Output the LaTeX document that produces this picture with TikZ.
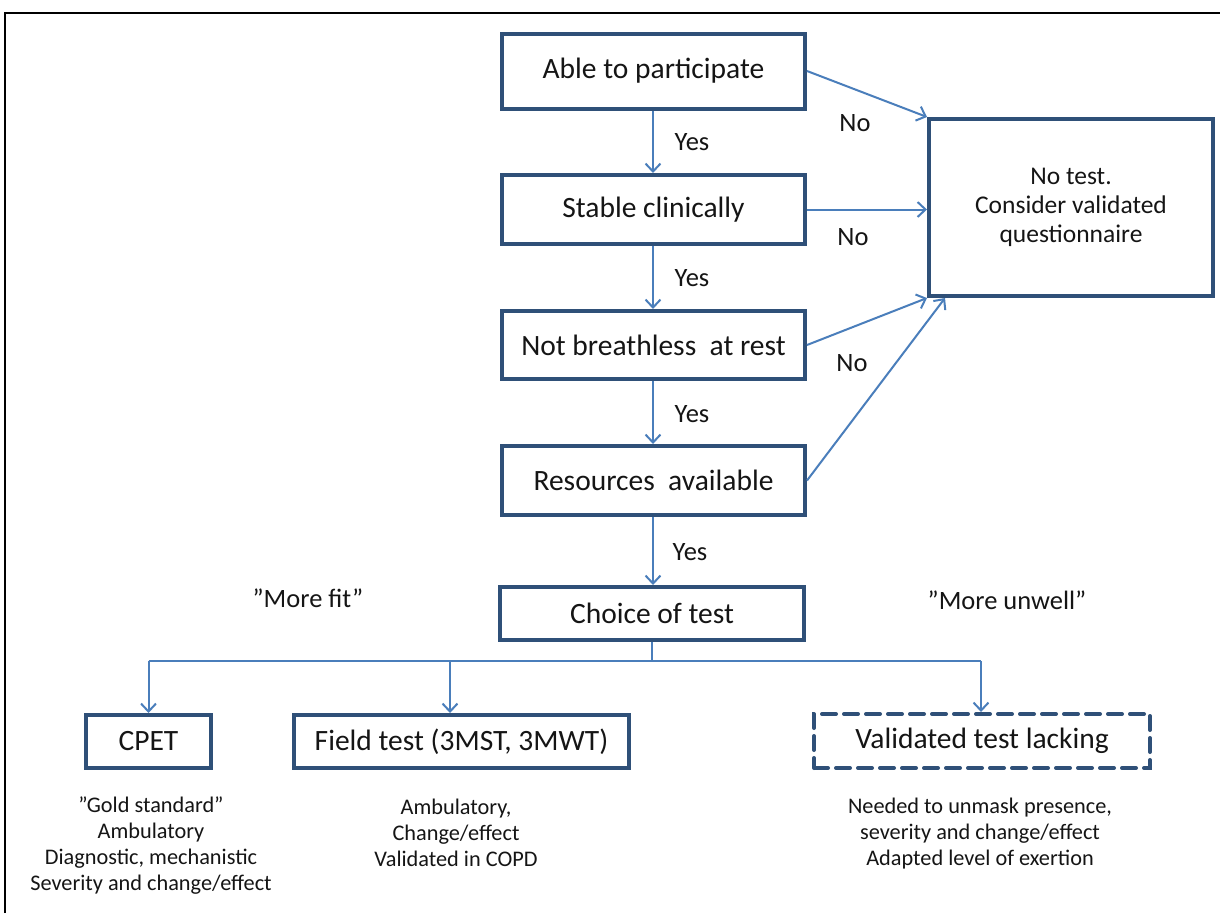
\documentclass[tikz,border=0pt]{standalone}
\usepackage{fontspec}
\setmainfont{Carlito}
\usetikzlibrary{arrows.meta}
\definecolor{boxblue}{HTML}{2F5078}
\definecolor{arrblue}{HTML}{4A7EBB}
\definecolor{txt}{HTML}{151515}
\begin{document}
\begin{tikzpicture}[x=1pt,y=-1pt,
  box/.style={draw=boxblue,line width=4pt,fill=white,inner sep=0pt,text=txt,
    font=\fontsize{29.5}{32}\selectfont,align=center},
  dbox/.style={box,dash pattern=on 14pt off 8pt,line cap=round},
  conn/.style={draw=arrblue,line width=2pt},
  arr/.style={conn,-{Straight Barb[length=8pt,width=15pt,line width=2pt]}},
  lab/.style={text=txt,inner sep=0pt,font=\fontsize{26.5}{28}\selectfont},
  note/.style={text=txt,inner sep=0pt,align=center,font=\fontsize{22.3}{26}\selectfont}]
\useasboundingbox (0,0) rectangle (1220,913);
\fill[white] (0,0) rectangle (1220,913);
% frame
\draw[line width=2.5pt,black] (5,913) -- (5,13) -- (1220,13);

% main boxes
\node[box,minimum width=303pt,minimum height=75pt] (able) at (653.5,71) {Able to participate};
\node[box,minimum width=303pt,minimum height=69pt] (stable) at (653.5,209.5) {Stable clinically};
\node[box,minimum width=303pt,minimum height=68pt] (breath) at (653.5,345) {Not breathless~ at rest};
\node[box,minimum width=303pt,minimum height=69pt] (res) at (653.5,480.5) {Resources~ available};
\node[box,minimum width=304pt,minimum height=53pt] (choice) at (652,613.5) {Choice of test};
\node[box,minimum width=284pt,minimum height=177pt,font=\fontsize{25.5}{29}\selectfont] (notest) at (1071,207.5)
  {No test.\\Consider validated\\questionnaire};

% bottom boxes
\node[box,minimum width=125pt,minimum height=53pt] (cpet) at (148.5,741.5) {CPET};
\node[box,minimum width=335pt,minimum height=53pt] (field) at (461.5,741.5) {Field test (3MST, 3MWT)};
\node[dbox,minimum width=336pt,minimum height=54pt] (valid) at (982,741) {Validated test lacking};

% yes arrows
\draw[arr] (able.south -| 653,0) -- (stable.north -| 653,0);
\draw[arr] (stable.south -| 653,0) -- (breath.north -| 653,0);
\draw[arr] (breath.south -| 653,0) -- (res.north -| 653,0);
\draw[arr] (res.south -| 653,0) -- (choice.north -| 653,0);

% no arrows
\draw[arr] (able.east) -- (notest.north west);
\draw[arr] (stable.east) -- (notest.west |- stable.east);
\draw[arr] (breath.east) -- (notest.south west);
\draw[arr] (res.east) -- ([xshift=18pt]notest.south west);

% labels
\node[lab] (y1) at (692,142) {Yes};
\node[lab] (y2) at (692,278) {Yes};
\node[lab] (y3) at (692,414) {Yes};
\node[lab] (y4) at (690,552) {Yes};
\node[lab] (n1) at (855,123) {No};
\node[lab] (n2) at (853,237) {No};
\node[lab] (n3) at (852,363) {No};
\node[lab] (fit) at (308,598) {”More fit”};
\node[lab] (unwell) at (1007,600) {”More unwell”};

% branching
\coordinate (j) at (652,661);
\coordinate (jl) at (148.5,661);
\coordinate (jm) at (450,661);
\coordinate (jr) at (981,661);
\draw[conn] (choice.south) -- (j);
\draw[conn,line cap=butt] (jl) -- (jr);
\draw[arr] (jl) -- (cpet.north);
\draw[arr] (jm) -- (jm |- field.north);
\draw[arr] (jr) -- (jr |- valid.north);

% notes
\node[note] (ncpet) at (151,846) {”Gold standard”\\Ambulatory\\Diagnostic, mechanistic\\Severity and change/effect};
\node[note] (nfield) at (456,833) {Ambulatory,\\Change/effect\\Validated in COPD};
\node[note] (nvalid) at (980,834) {Needed to unmask presence,\\severity and change/effect\\Adapted level of exertion};
\end{tikzpicture}
\end{document}
